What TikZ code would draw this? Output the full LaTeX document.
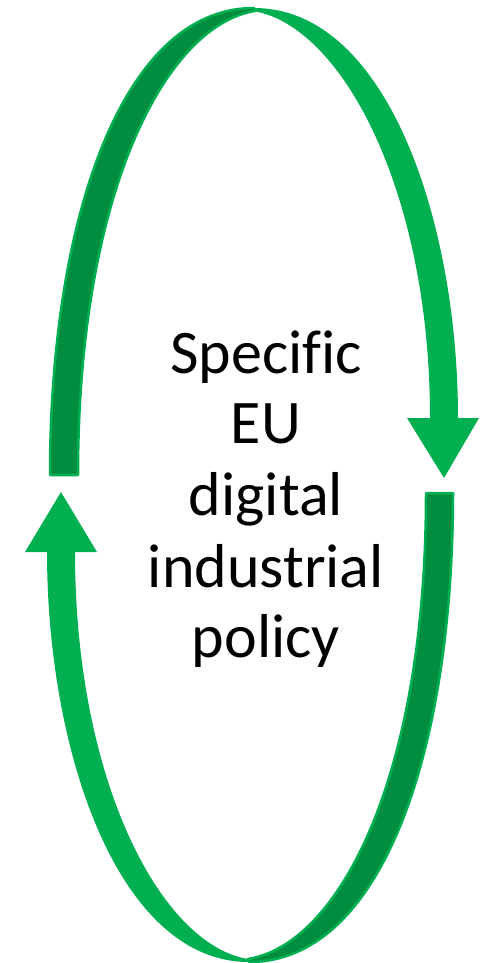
\documentclass[tikz,border=0pt]{standalone}
\usepackage{fontspec}
\setmainfont[Ligatures=NoCommon]{Carlito}
\definecolor{gLight}{RGB}{0,176,80}
\definecolor{gDark}{RGB}{0,141,64}
\begin{document}
\begin{tikzpicture}[x=1pt,y=-1pt,
  txt/.style={font=\fontsize{62}{71}\selectfont, anchor=base, inner sep=0pt, text=black},
  lightband/.style={fill=gLight},
  darkband/.style={fill=gDark, draw=gLight, line width=2.5pt, line join=round}]
\useasboundingbox[fill=white] (0,0) rectangle (494,963);

% top-left dark back part
\path[darkband] (50,475) .. controls (50,222) and (121,8) .. (254,8)
  -- (255,11) .. controls (166.5,25) and (78,191) .. (78,475) -- cycle;

% bottom-right dark back part
\path[darkband] (453,493) .. controls (453,751) and (382,962) .. (249,962)
  -- (248,959) .. controls (337,945) and (426,782) .. (426,493) -- cycle;

% top-right light arrow (points down)
\path[lightband] (254,8) .. controls (387,8) and (458,222) .. (458,418)
  -- (479,418) -- (444,478) -- (407,418) -- (430,418)
  .. controls (430,191) and (341.5,25) .. (253,11) -- cycle;

% bottom-left light arrow (points up)
\path[lightband] (249,962) .. controls (118,962) and (47,751) .. (47,552)
  -- (25,552) -- (61,492) -- (97,552) -- (75,552)
  .. controls (75,782) and (161.5,945) .. (248,959) -- cycle;

\node[txt] (l1) at (266,373) {Specific};
\node[txt] (l2) at (266,443) {EU};
\node[txt] (l3) at (266,515) {digital};
\node[txt] (l4) at (266,587) {industrial};
\node[txt] (l5) at (266,657) {policy};
\end{tikzpicture}
\end{document}
